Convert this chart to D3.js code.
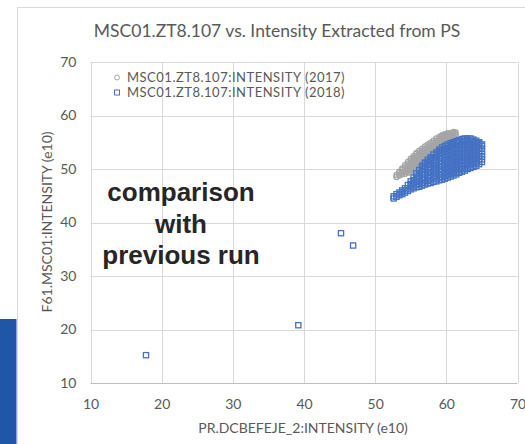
<!DOCTYPE html>
<html>
<head>
<meta charset="utf-8">
<script src="https://cdn.jsdelivr.net/npm/d3@7/dist/d3.min.js"></script>
<style>
  html, body { margin: 0; padding: 0; background: #fff; }
  svg { display: block; }
</style>
</head>
<body>
<svg id="chart" width="525" height="444"></svg>
<script>
// ---- Chart data (intensity, e10) ----
const chartTitle = "MSC01.ZT8.107 vs. Intensity Extracted from PS";
const xTitle = "PR.DCBEFEJE_2:INTENSITY (e10)";
const yTitle = "F61.MSC01:INTENSITY (e10)";
const seriesNames = ["MSC01.ZT8.107:INTENSITY (2017)", "MSC01.ZT8.107:INTENSITY (2018)"];
const xTicks = [10, 20, 30, 40, 50, 60, 70];
const yTicks = [10, 20, 30, 40, 50, 60, 70];
const noteLines = ["comparison", "with", "previous run"];

// 2017 run: each row is [x, y1, y2, ...] — readings sharing one x value
const run2017 = [
  [53.0, 48.5, 48.9],
  [53.4, 48.8, 49.2, 49.5],
  [53.8, 49.0, 49.4, 49.8, 50.1],
  [54.2, 49.1, 49.5, 49.9, 50.3, 50.7],
  [54.6, 49.3, 49.7, 50.1, 50.5, 50.9, 51.3],
  [55.0, 49.5, 49.9, 50.3, 50.7, 51.1, 51.5, 51.9],
  [55.4, 49.7, 50.1, 50.5, 50.9, 51.3, 51.7, 52.1, 52.4],
  [55.8, 50.0, 50.4, 50.8, 51.2, 51.6, 52.0, 52.4, 52.8, 53.0],
  [56.2, 50.3, 50.7, 51.1, 51.5, 51.9, 52.3, 52.7, 53.1, 53.4],
  [56.6, 50.6, 51.0, 51.4, 51.8, 52.2, 52.6, 53.0, 53.4, 53.8],
  [57.0, 51.0, 51.4, 51.8, 52.2, 52.6, 53.0, 53.4, 53.8, 54.2],
  [57.4, 51.4, 51.8, 52.2, 52.6, 53.0, 53.4, 53.8, 54.2, 54.6],
  [57.8, 51.7, 52.1, 52.5, 52.9, 53.3, 53.7, 54.1, 54.5, 54.9],
  [58.2, 52.1, 52.5, 52.9, 53.3, 53.7, 54.1, 54.5, 54.9, 55.3],
  [58.6, 52.5, 52.9, 53.3, 53.7, 54.1, 54.5, 54.9, 55.3, 55.7],
  [59.0, 52.9, 53.3, 53.7, 54.1, 54.5, 54.9, 55.3, 55.7, 56.0],
  [59.4, 53.3, 53.7, 54.1, 54.5, 54.9, 55.3, 55.7, 56.1, 56.3],
  [59.8, 53.8, 54.2, 54.6, 55.0, 55.4, 55.8, 56.2, 56.5],
  [60.2, 54.4, 54.8, 55.2, 55.6, 56.0, 56.4, 56.7],
  [60.6, 55.1, 55.5, 55.9, 56.3, 56.7],
  [61.0, 55.8, 56.2, 56.6, 56.9],
  [61.3, 56.4, 56.8]
];

// 2018 run: same layout, plus the four low readings at the start
const run2018 = [
  [17.8, 15.2],
  [39.2, 20.8],
  [45.2, 38.0],
  [46.9, 35.7],
  [52.6, 44.5, 44.9],
  [53.0, 44.8, 45.3],
  [53.4, 45.1, 45.6],
  [53.8, 45.3, 45.7, 46.0],
  [54.2, 45.6, 46.0, 46.4],
  [54.6, 45.9, 46.4, 47.0],
  [55.0, 46.2, 46.7, 47.2, 47.7],
  [55.4, 46.4, 46.9, 47.4, 47.9, 48.4],
  [55.8, 46.6, 47.1, 47.6, 48.1, 48.6, 49.2],
  [56.2, 46.7, 47.2, 47.7, 48.2, 48.7, 49.2, 49.8],
  [56.6, 46.9, 47.4, 47.9, 48.4, 48.9, 49.4, 49.9, 50.3, 50.6],
  [57.0, 47.1, 47.5, 48.0, 48.5, 49.0, 49.5, 50.0, 50.5, 51.0, 51.2],
  [57.4, 47.3, 47.8, 48.3, 48.8, 49.3, 49.8, 50.3, 50.8, 51.3, 51.7],
  [57.8, 47.4, 47.9, 48.4, 48.9, 49.4, 49.9, 50.4, 50.9, 51.4, 51.9, 52.2],
  [58.2, 47.6, 48.1, 48.6, 49.1, 49.6, 50.1, 50.6, 51.1, 51.6, 52.1, 52.7],
  [58.6, 47.7, 48.2, 48.7, 49.2, 49.7, 50.2, 50.7, 51.2, 51.7, 52.2, 52.7, 53.1],
  [59.0, 47.9, 48.4, 48.9, 49.4, 49.9, 50.4, 50.9, 51.4, 51.9, 52.4, 52.9, 53.3, 53.6],
  [59.4, 48.0, 48.5, 49.0, 49.5, 50.0, 50.5, 51.0, 51.5, 52.0, 52.5, 53.0, 53.5, 54.0],
  [59.8, 48.2, 48.7, 49.2, 49.7, 50.2, 50.7, 51.2, 51.7, 52.2, 52.7, 53.2, 53.7, 54.3],
  [60.2, 48.4, 48.9, 49.4, 49.9, 50.4, 50.9, 51.4, 51.9, 52.4, 52.9, 53.4, 53.9, 54.3, 54.6],
  [60.6, 48.6, 49.1, 49.6, 50.1, 50.6, 51.1, 51.6, 52.1, 52.6, 53.1, 53.6, 54.1, 54.5, 54.8],
  [61.0, 48.8, 49.3, 49.8, 50.3, 50.8, 51.3, 51.8, 52.3, 52.8, 53.3, 53.8, 54.3, 54.7, 55.0],
  [61.4, 49.0, 49.5, 50.0, 50.5, 51.0, 51.5, 52.0, 52.5, 53.0, 53.5, 54.0, 54.5, 54.9, 55.2],
  [61.8, 49.3, 49.8, 50.3, 50.8, 51.3, 51.8, 52.3, 52.8, 53.3, 53.8, 54.3, 54.8, 55.1, 55.4],
  [62.2, 49.5, 50.0, 50.5, 51.0, 51.5, 52.0, 52.5, 53.0, 53.5, 54.0, 54.5, 55.0, 55.3, 55.6],
  [62.6, 49.7, 50.2, 50.7, 51.2, 51.7, 52.2, 52.7, 53.2, 53.7, 54.2, 54.7, 55.2, 55.7],
  [63.0, 50.0, 50.5, 51.0, 51.5, 52.0, 52.5, 53.0, 53.5, 54.0, 54.5, 55.0, 55.4, 55.7],
  [63.4, 50.2, 50.7, 51.2, 51.7, 52.2, 52.7, 53.2, 53.7, 54.2, 54.7, 55.2, 55.7],
  [63.8, 50.4, 50.9, 51.4, 51.9, 52.4, 52.9, 53.4, 53.9, 54.4, 54.9, 55.2, 55.5],
  [64.2, 50.6, 51.1, 51.6, 52.1, 52.6, 53.1, 53.6, 54.1, 54.6, 55.0, 55.3],
  [64.6, 50.9, 51.4, 51.9, 52.4, 52.9, 53.4, 53.9, 54.4, 54.8, 55.0],
  [65.0, 51.3, 51.8, 52.3, 52.8, 53.3, 53.8, 54.3, 54.6]
];

// Expand [x, y1, y2, ...] rows into {x, y} points
const toPoints = rows => rows.flatMap(([x, ...ys]) => ys.map(y => ({ x, y })));
const pts2017 = toPoints(run2017);
const pts2018 = toPoints(run2018);

// ---- Layout ----
const svg = d3.select("#chart");
const font = "Lato, 'Open Sans', sans-serif";
const textGrey = "#595959";
const gridGrey = "#d9d9d9";
const grey = "#a5a5a5";
const blue = "#4472c4";

const plot = { left: 90.5, right: 517.5, top: 62, bottom: 383 };

const x = d3.scaleLinear().domain([10, 70]).range([plot.left, plot.right]);
const y = d3.scaleLinear().domain([10, 70]).range([plot.bottom, plot.top]);

// side bar and chart frame
svg.append("rect")
  .attr("x", 0).attr("y", 319).attr("width", 16.5).attr("height", 125)
  .attr("fill", "#1f56a8");
svg.append("path")
  .attr("d", "M17.5,444V7.5H525")
  .attr("fill", "none").attr("stroke", "#d9d9d9").attr("stroke-width", 1);

// Title
svg.append("text")
  .attr("x", 277).attr("y", 37)
  .attr("text-anchor", "middle")
  .attr("font-family", font).attr("font-size", 17.5)
  .attr("fill", textGrey)
  .text(chartTitle);

// Gridlines
const grid = svg.append("g");
grid.selectAll("line.v").data(xTicks).join("line")
  .attr("x1", d => Math.round(x(d)) + 0.5).attr("x2", d => Math.round(x(d)) + 0.5)
  .attr("y1", plot.top).attr("y2", plot.bottom)
  .attr("stroke", gridGrey);
grid.selectAll("line.h").data(yTicks).join("line")
  .attr("x1", plot.left).attr("x2", plot.right)
  .attr("y1", d => Math.round(y(d)) + 0.5).attr("y2", d => Math.round(y(d)) + 0.5)
  .attr("stroke", d => d === 10 ? "#bfbfbf" : gridGrey);

// Axes (labels only; the gridlines carry the lines)
const xAxis = svg.append("g")
  .attr("transform", `translate(0,${plot.bottom})`)
  .call(d3.axisBottom(x).tickValues(xTicks).tickSize(0).tickPadding(16));
const yAxis = svg.append("g")
  .attr("transform", `translate(${plot.left},0)`)
  .call(d3.axisLeft(y).tickValues(yTicks).tickSize(0).tickPadding(14));
[xAxis, yAxis].forEach(g => {
  g.select(".domain").remove();
  g.selectAll("text")
    .attr("font-family", font).attr("font-size", 14).attr("fill", textGrey);
});

// Axis titles
svg.append("text")
  .attr("x", 303).attr("y", 433)
  .attr("text-anchor", "middle")
  .attr("font-family", font).attr("font-size", 14)
  .attr("fill", textGrey)
  .text(xTitle);
svg.append("text")
  .attr("transform", "translate(52,222) rotate(-90)")
  .attr("text-anchor", "middle")
  .attr("font-family", font).attr("font-size", 14)
  .attr("fill", textGrey)
  .text(yTitle);

// Series markers
const marks = svg.append("g");
marks.append("g").selectAll("circle").data(pts2017).join("circle")
  .attr("cx", d => x(d.x)).attr("cy", d => y(d.y)).attr("r", 2.6)
  .attr("fill", "none").attr("stroke", grey).attr("stroke-width", 1.3);
marks.append("g").selectAll("rect").data(pts2018).join("rect")
  .attr("x", d => x(d.x) - 2.6).attr("y", d => y(d.y) - 2.6)
  .attr("width", 5.2).attr("height", 5.2)
  .attr("fill", "none").attr("stroke", blue).attr("stroke-width", 1.3);

// Legend
const legend = svg.append("g")
  .attr("font-family", font).attr("font-size", 13)
  .attr("letter-spacing", 0.5).attr("fill", textGrey);
seriesNames.forEach((name, i) => {
  const cy = 77.5 + i * 15;
  if (i === 0) {
    legend.append("circle").attr("cx", 117).attr("cy", cy).attr("r", 2.5)
      .attr("fill", "none").attr("stroke", grey);
  } else {
    legend.append("rect").attr("x", 114.5).attr("y", cy - 2.5).attr("width", 5).attr("height", 5)
      .attr("fill", "none").attr("stroke", blue);
  }
  legend.append("text").attr("x", 127).attr("y", cy + 4.5).text(name);
});

// Annotation
const note = svg.append("text")
  .attr("text-anchor", "middle")
  .attr("font-family", "'Liberation Sans', Arial, sans-serif")
  .attr("font-weight", "bold").attr("font-size", 26)
  .attr("fill", "#262626");
noteLines.forEach((line, i) => {
  note.append("tspan").attr("x", 181).attr("y", 201 + i * 31.5).text(line);
});
</script>
</body>
</html>
